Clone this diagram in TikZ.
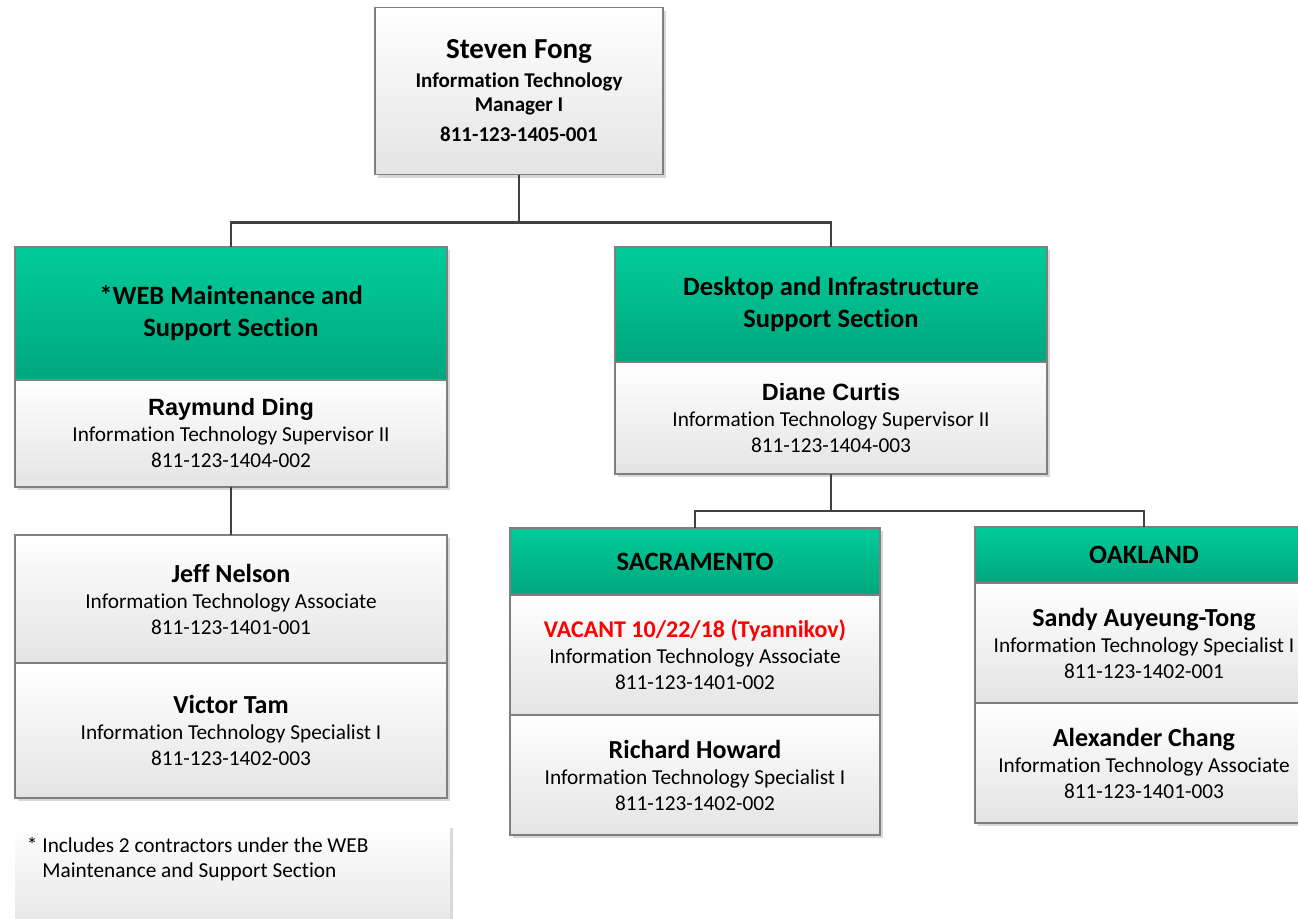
\documentclass[tikz,border=0pt]{standalone}
\usepackage{fontspec}
\setmainfont{Carlito}[Ligatures=NoCommon]
\newfontfamily\arialfont{Liberation Sans}
\usetikzlibrary{positioning, shadows}

\definecolor{sectop}{HTML}{00CC99}
\definecolor{secbot}{HTML}{00A77E}
\definecolor{boxline}{HTML}{7F7F7F}
\definecolor{linkgray}{HTML}{404040}
\definecolor{boxbot}{HTML}{E4E4E4}

\newcommand{\pname}[1]{{\fontsize{26}{26}\selectfont\bfseries #1}}
\newcommand{\aname}[1]{{\arialfont\fontsize{23.5}{26}\selectfont\bfseries #1}}

\begin{document}
\begin{tikzpicture}[x=1pt, y=-1pt,
  every node/.style={outer sep=0pt},
  card/.style={draw=boxline, line width=1.2pt, top color=white, bottom color=boxbot,
    align=center, font=\fontsize{21.3}{26}\selectfont,
    drop shadow={shadow xshift=3pt, shadow yshift=-3pt, fill=black!30, opacity=.5}},
  section/.style={card, top color=sectop, bottom color=secbot, font=\fontsize{26.5}{32}\selectfont\bfseries},
  notebox/.style={card, draw=none},
  link/.style={draw=linkgray, line width=2.5pt}]
\useasboundingbox (0,0) rectangle (1298,918);
\clip (0,0) rectangle (1298,918);

% manager
\node[card, minimum width=288, minimum height=167, font=\fontsize{21}{24}\selectfont\bfseries] (boss) at (519,91)
  {{\fontsize{29}{30}\selectfont Steven Fong}\\[5pt]Information Technology\\Manager I\\[6pt]811-123-1405-001};

% sections
\node[section, minimum width=432, minimum height=133] (web) at (231,313.5) {*WEB Maintenance and\\Support Section};
\node[card, minimum width=432, minimum height=107, below=0pt of web] (ding)
  {\aname{Raymund Ding}\\Information Technology Supervisor II\\811-123-1404-002};
\node[section, minimum width=432, minimum height=115] (desk) at (831,304.5) {Desktop and Infrastructure\\Support Section};
\node[card, minimum width=432, minimum height=112, below=0pt of desk] (curtis)
  {\aname{Diane Curtis}\\Information Technology Supervisor II\\811-123-1404-003};

% web staff
\node[card, minimum width=432, minimum height=128] (nelson) at (231,599)
  {\pname{Jeff Nelson}\\Information Technology Associate\\811-123-1401-001};
\node[card, minimum width=432, minimum height=135, below=0pt of nelson] (tam)
  {\pname{Victor Tam}\\Information Technology Specialist I\\811-123-1402-003};

% sacramento
\node[section, minimum width=370, minimum height=67, font=\fontsize{26.5}{26}\selectfont\bfseries] (sac) at (695,561.5) {SACRAMENTO};
\node[card, minimum width=370, minimum height=120, below=0pt of sac] (vacant)
  {{\color{red}\fontsize{24}{26}\selectfont\bfseries VACANT 10/22/18 (Tyannikov)}\\Information Technology Associate\\811-123-1401-002};
\node[card, minimum width=370, minimum height=120, below=0pt of vacant] (howard)
  {\pname{Richard Howard}\\Information Technology Specialist I\\811-123-1402-002};

% oakland
\node[section, minimum width=338, minimum height=56, font=\fontsize{26.5}{26}\selectfont\bfseries] (oak) at (1144,555) {OAKLAND};
\node[card, minimum width=338, minimum height=120, below=0pt of oak] (tong)
  {\pname{Sandy Auyeung-Tong}\\Information Technology Specialist I\\811-123-1402-001};
\node[card, minimum width=338, minimum height=120, below=0pt of tong] (chang)
  {\pname{Alexander Chang}\\Information Technology Associate\\811-123-1401-003};

% footnote
\node[notebox, minimum width=435, minimum height=110] (nbox) at (232.5,880) {};
\node[anchor=north west, align=left, inner xsep=12, inner ysep=12, font=\fontsize{21.3}{25}\selectfont] (note) at (nbox.north west)
  {* Includes 2 contractors under the WEB\\\phantom{*} Maintenance and Support Section};

% links
\draw[link] (boss.south) -- ++(0,48) -| (web.north);
\draw[link] (boss.south) -- ++(0,48) -| (desk.north);
\draw[link] (ding.south) -- (nelson.north);
\draw[link] (curtis.south) -- ++(0,37) -| (sac.north);
\draw[link] (curtis.south) -- ++(0,37) -| (oak.north);
\end{tikzpicture}
\end{document}
